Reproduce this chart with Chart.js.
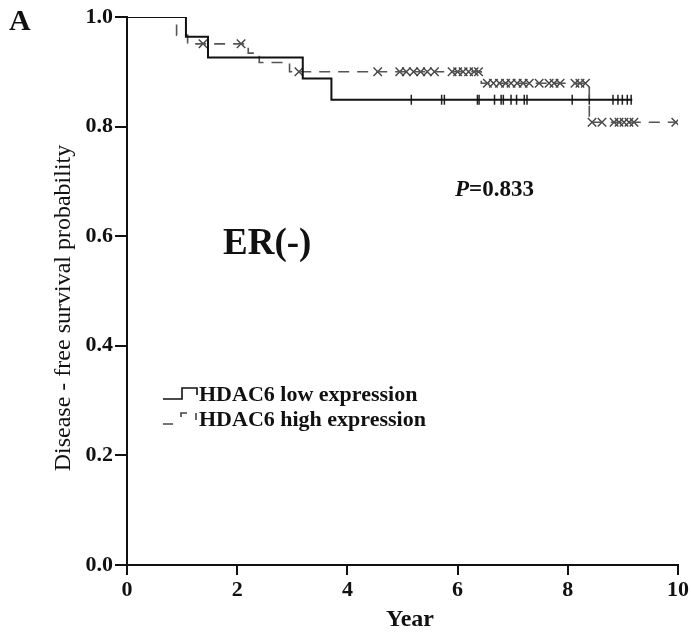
<!DOCTYPE html>
<html>
<head>
<meta charset="utf-8">
<script src="https://cdn.jsdelivr.net/npm/chart.js@4.4.1/dist/chart.umd.min.js"></script>
<style>
  html, body { margin: 0; padding: 0; background: #fff; }
  #wrap { width: 691px; height: 634px; position: relative; }
</style>
</head>
<body>
<div id="wrap"><canvas id="kmChart" width="691" height="634"></canvas></div>
<script>
// step curves (time in years, survival probability)
const lowTimes = [0, 1.07, 1.47, 3.19, 3.71, 9.17];
const lowSurv  = [1.0, 0.964, 0.926, 0.888, 0.849, 0.849];
const lowCensor = [5.16, 5.71, 5.76, 6.36, 6.39, 6.67, 6.79, 6.83, 6.97, 7.07,
                   7.21, 7.26, 8.08, 8.39, 8.82, 8.91, 8.99, 9.08, 9.15];

const highTimes = [0, 0.9, 1.1, 2.2, 2.4, 2.95, 6.43, 8.39, 9.96];
const highSurv  = [1.0, 0.967, 0.951, 0.934, 0.917, 0.900, 0.879, 0.808, 0.808];
const highCensor = [1.38, 2.07, 3.12, 4.55, 4.95, 5.07, 5.2, 5.33, 5.45, 5.58,
                    5.9, 6.0, 6.1, 6.2, 6.3, 6.38, 6.54, 6.65, 6.76, 6.87,
                    6.97, 7.08, 7.19, 7.30, 7.48, 7.66, 7.75, 7.86, 8.13, 8.22,
                    8.32, 8.44, 8.62, 8.84, 8.93, 9.02, 9.11, 9.2, 9.96];

const xTicks = [0, 2, 4, 6, 8, 10];
const yTicks = [0, 0.2, 0.4, 0.6, 0.8, 1.0];

const FONT = "'Liberation Serif', 'Times New Roman', serif";

// value of a step curve at time t
function survAt(times, surv, t) {
  let v = surv[0];
  for (let i = 0; i < times.length; i++) {
    if (times[i] <= t) v = surv[i];
  }
  return v;
}

const lowLine = lowTimes.map((t, i) => ({ x: t, y: lowSurv[i] }));
const highLine = highTimes.map((t, i) => ({ x: t, y: highSurv[i] }));
const lowMarks = lowCensor.map(t => ({ x: t, y: survAt(lowTimes, lowSurv, t) }));
const highMarks = highCensor.map(t => ({ x: t, y: survAt(highTimes, highSurv, t) }));

// free texts, axis titles + legend glyphs
const annotations = {
  id: "annotations",
  afterDraw(chart) {
    const c = chart.ctx;
    c.save();
    c.fillStyle = "#111";
    c.textBaseline = "middle";
    c.textAlign = "left";

    c.font = "bold 30px " + FONT;
    c.fillText("A", 9, 22);

    c.font = "bold 37px " + FONT;
    c.fillText("ER(-)", 223, 244);

    c.font = "italic bold 23px " + FONT;
    c.fillText("P", 455, 190);
    const pw = c.measureText("P").width;
    c.font = "bold 23px " + FONT;
    c.fillText("=0.833", 455 + pw, 190);

    // axis titles
    c.textAlign = "center";
    c.font = "bold 24px " + FONT;
    c.fillText("Year", 410, 620);

    c.save();
    c.translate(64, 308);
    c.rotate(-Math.PI / 2);
    c.font = "24px " + FONT;
    c.fillText("Disease - free survival probability", 0, 0);
    c.restore();

    // legend
    c.textAlign = "left";
    c.font = "bold 22px " + FONT;
    c.fillText("HDAC6 low expression", 199, 395);
    c.fillText("HDAC6 high expression", 199, 420);

    c.strokeStyle = "#111";
    c.lineWidth = 1.6;
    c.beginPath();
    c.moveTo(163, 399); c.lineTo(182, 399); c.lineTo(182, 388);
    c.lineTo(197, 388); c.lineTo(197, 395);
    c.stroke();

    c.strokeStyle = "#444";
    c.beginPath();
    c.moveTo(163, 424); c.lineTo(173, 424);
    c.moveTo(181, 417); c.lineTo(181, 413); c.lineTo(187, 413);
    c.moveTo(196, 413); c.lineTo(196, 420);
    c.stroke();
    c.restore();
  }
};

new Chart(document.getElementById("kmChart"), {
  type: "scatter",
  data: {
    datasets: [
      {
        label: "HDAC6 low expression",
        data: lowLine,
        showLine: true,
        stepped: "before",
        borderColor: "#111",
        borderWidth: 2,
        pointRadius: 0
      },
      {
        label: "HDAC6 high expression",
        data: highLine,
        showLine: true,
        stepped: "before",
        borderColor: "#555",
        borderWidth: 1.6,
        borderDash: [11, 8],
        pointRadius: 0
      },
      {
        label: "low censored",
        data: lowMarks,
        pointStyle: "line",
        rotation: 90,
        pointRadius: 5,
        borderColor: "#222",
        pointBorderWidth: 1.5
      },
      {
        label: "high censored",
        data: highMarks,
        pointStyle: "crossRot",
        pointRadius: 6,
        borderColor: "#444",
        pointBorderWidth: 1.4
      }
    ]
  },
  options: {
    responsive: false,
    animation: false,
    layout: { padding: { left: 0, top: 17, right: 12, bottom: 0 } },
    plugins: {
      legend: { display: false },
      tooltip: { enabled: false }
    },
    scales: {
      x: {
        type: "linear",
        min: 0,
        max: 10,
        afterBuildTicks(scale) { scale.ticks = xTicks.map(v => ({ value: v })); },
        afterFit(scale) { scale.height = 69; },
        grid: { drawOnChartArea: false, drawTicks: true, tickLength: 10, color: "#111", lineWidth: 2 },
        border: { color: "#111", width: 2 },
        ticks: {
          color: "#111",
          padding: 2,
          font: { family: FONT, size: 22, weight: "bold" },
          maxRotation: 0
        }
      },
      y: {
        min: 0,
        max: 1,
        afterBuildTicks(scale) { scale.ticks = yTicks.map(v => ({ value: v })); },
        afterFit(scale) { scale.width = 127; },
        grid: { drawOnChartArea: false, drawTicks: true, tickLength: 12, color: "#111", lineWidth: 2 },
        border: { color: "#111", width: 2 },
        ticks: {
          color: "#111",
          padding: 2,
          font: { family: FONT, size: 22, weight: "bold" },
          callback: v => v.toFixed(1)
        }
      }
    }
  },
  plugins: [annotations]
});
</script>
</body>
</html>
